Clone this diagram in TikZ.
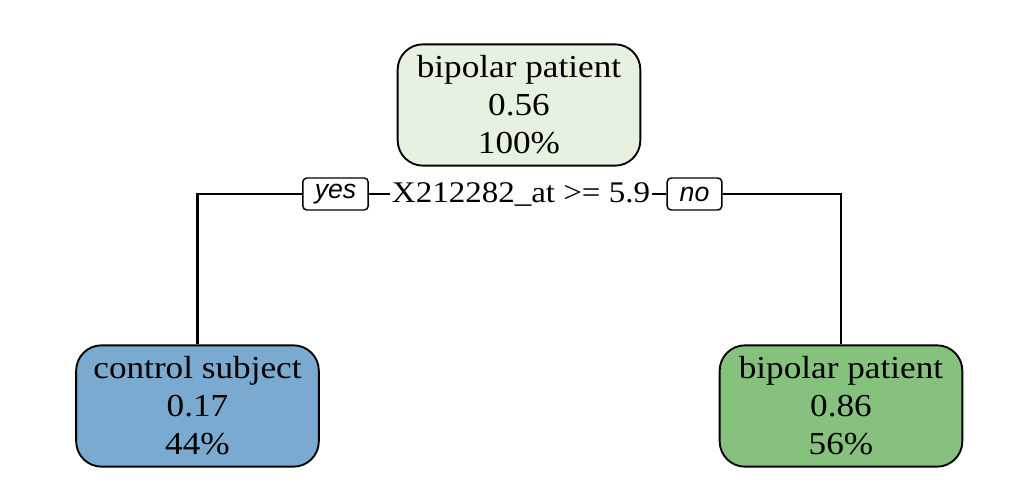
\documentclass[tikz,border=0pt]{standalone}
\usepackage{fontspec}
\setmainfont{Liberation Serif}[FakeStretch=1.1]
\newfontfamily\labelfont{Liberation Sans}
\begin{document}
\begin{tikzpicture}[x=0.75pt,y=-0.75pt,
   leafbox/.style={draw=black,line width=1.4pt,rounded corners=19pt,
     minimum width=182pt,minimum height=91pt,inner sep=0pt,align=center,
     font=\fontsize{24}{28.5}\selectfont},
   yesno/.style={draw=black,line width=1.1pt,rounded corners=3pt,
     inner sep=0pt,minimum height=24pt,minimum width=16pt,
     font=\labelfont\itshape\fontsize{20}{22}\selectfont},
   branch/.style={black,line width=2pt}]
   \useasboundingbox (0,0) rectangle (1028,502);
   \definecolor{rootfill}{HTML}{E6F2DF}
   \definecolor{ctrlfill}{HTML}{7AAAD0}
   \definecolor{bipofill}{HTML}{86C17E}
   % nodes
   \node [leafbox,fill=rootfill] (root) at (519,105) {bipolar patient\\0.56\\100\%};
   \node [leafbox,fill=ctrlfill] (ctrl) at (197.5,406) {control subject\\0.17\\44\%};
   \node [leafbox,fill=bipofill] (bipo) at (841,406) {bipolar patient\\0.86\\56\%};
   \node [inner sep=1pt,font=\fontsize{22.5}{26}\selectfont] (split) at (521,194) {X212282\_at >= 5.9};
   \node [yesno,minimum width=49pt] (yes) at (335.5,194) {yes};
   \node [yesno,minimum width=41pt] (no) at (694.5,194) {no};
   % branches
   \draw [branch] (ctrl.north) |- (yes.west);
   \draw [branch] (yes.east) -- (split.west);
   \draw [branch] (split.east) -- (no.west);
   \draw [branch] (no.east) -| (bipo.north);
\end{tikzpicture}
\end{document}
